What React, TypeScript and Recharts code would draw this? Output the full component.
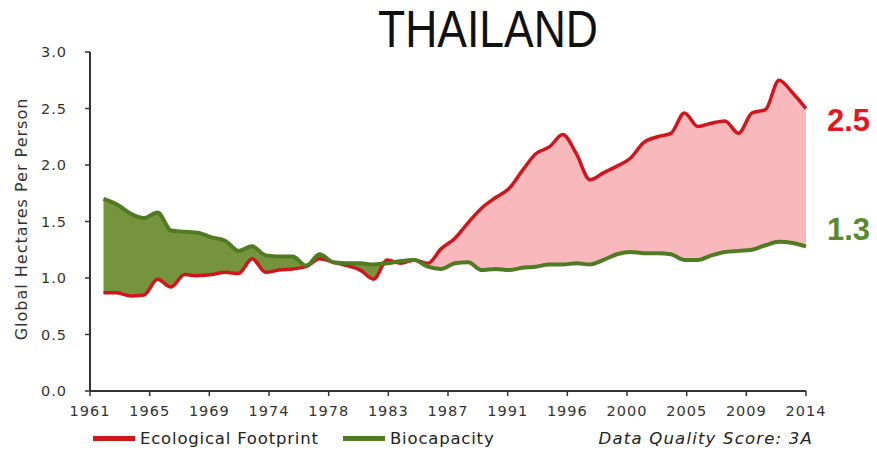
import React from "react";
import {
  ComposedChart,
  Area,
  Line,
  XAxis,
  YAxis,
} from "recharts";

const years = [
  1962, 1963, 1964, 1965, 1966, 1967, 1968, 1969, 1970, 1971,
  1972, 1973, 1974, 1975, 1976, 1977, 1978, 1979, 1980, 1981,
  1982, 1983, 1984, 1985, 1986, 1987, 1988, 1989, 1990, 1991,
  1992, 1993, 1994, 1995, 1996, 1997, 1998, 1999, 2000, 2001,
  2002, 2003, 2004, 2005, 2006, 2007, 2008, 2009, 2010, 2011,
  2012, 2013, 2014,
];

const footprint = [
  0.87, 0.87, 0.84, 0.85, 0.99, 0.92, 1.03, 1.02, 1.03, 1.05,
  1.04, 1.17, 1.05, 1.07, 1.08, 1.1, 1.17, 1.14, 1.11, 1.07,
  0.99, 1.16, 1.13, 1.16, 1.13, 1.26, 1.35, 1.49, 1.62, 1.71,
  1.79, 1.95, 2.1, 2.16, 2.27, 2.1, 1.87, 1.93, 1.99, 2.06,
  2.2, 2.25, 2.28, 2.46, 2.34, 2.37, 2.39, 2.28, 2.46, 2.49,
  2.75, 2.64, 2.5,
];

const biocapacity = [
  1.7, 1.65, 1.57, 1.53, 1.58, 1.42, 1.41, 1.4, 1.36, 1.33,
  1.24, 1.28, 1.2, 1.19, 1.19, 1.11, 1.21, 1.14, 1.13, 1.13,
  1.12, 1.13, 1.15, 1.16, 1.1, 1.08, 1.13, 1.14, 1.07, 1.08,
  1.07, 1.09, 1.1, 1.12, 1.12, 1.13, 1.12, 1.16, 1.21, 1.23,
  1.22, 1.22, 1.21, 1.16, 1.16, 1.2, 1.23, 1.24, 1.25, 1.29,
  1.32, 1.31, 1.28,
];

const xTickLabels = [
  "1961", "1965", "1969", "1974", "1978", "1983", "1987",
  "1991", "1996", "2000", "2005", "2009", "2014",
];
const yTicks = [0, 0.5, 1, 1.5, 2, 2.5, 3];

const X_MIN = 1961;
const X_MAX = 2014;
const xTicks = xTickLabels.map(
  (_, i) => X_MIN + (i * (X_MAX - X_MIN)) / (xTickLabels.length - 1)
);

const RED = "#d0161c";
const GREEN = "#507b22";

const rows = years.map((year, i) => {
  const fp = footprint[i];
  const bc = biocapacity[i];
  const top = Math.max(fp, bc);
  return { year, fp, bc, reserve: [fp, top], deficit: [bc, top] };
});

const last = rows.length - 1;

const axisFont = "'DejaVu Sans', sans-serif";

function EndLabel({
  x,
  y,
  index,
  value,
  color,
  dy,
}: {
  x?: number;
  y?: number;
  index?: number;
  value?: number;
  color: string;
  dy: number;
}) {
  if (index !== last || x == null || y == null) return null;
  return (
    <text
      x={x + 21}
      y={y + dy}
      fill={color}
      fontFamily="'Liberation Sans', Arial, sans-serif"
      fontWeight="bold"
      fontSize={31}
      dominantBaseline="central"
    >
      {Number(value).toFixed(1)}
    </text>
  );
}

export default function App() {
  return (
    <div style={{ position: "relative", width: 877, height: 452, background: "#fff" }}>
      <style>{`body{margin:0;background:#fff}`}</style>
      <svg
        width={877}
        height={452}
        style={{ position: "absolute", left: 0, top: 0, pointerEvents: "none" }}
      >
        <text
          x={378}
          y={47}
          fontFamily="'Liberation Sans', Arial, sans-serif"
          fontSize={51}
          fill="#111"
          textLength={220}
          lengthAdjust="spacingAndGlyphs"
        >
          THAILAND
        </text>
        <text
          transform="translate(21,219) rotate(-90)"
          textAnchor="middle"
          dominantBaseline="central"
          fontFamily={axisFont}
          fontSize={16}
          letterSpacing={1}
          fill="#333"
        >
          Global Hectares Per Person
        </text>
        <rect x={93} y={436} width={42} height={5} fill={RED} />
        <text x={140} y={444} fontFamily={axisFont} fontSize={16.5} letterSpacing={0.8} fill="#222">
          Ecological Footprint
        </text>
        <rect x={343} y={436} width={42} height={5} fill={GREEN} />
        <text x={390} y={444} fontFamily={axisFont} fontSize={16.5} letterSpacing={0.8} fill="#222">
          Biocapacity
        </text>
        <text
          x={813}
          y={444}
          textAnchor="end"
          fontFamily={axisFont}
          fontStyle="italic"
          fontSize={16.5}
          letterSpacing={1.2}
          fill="#222"
        >
          Data Quality Score: 3A
        </text>
      </svg>

      <ComposedChart
        width={877}
        height={452}
        data={rows}
        margin={{ top: 52, right: 71, bottom: 31, left: 30 }}
      >
        <XAxis
          dataKey="year"
          type="number"
          domain={[X_MIN, X_MAX]}
          ticks={xTicks}
          interval={0}
          tickFormatter={(v: number) =>
            xTickLabels[Math.round(((v - X_MIN) * (xTickLabels.length - 1)) / (X_MAX - X_MIN))]
          }
          height={30}
          tickSize={5}
          tickMargin={10}
          axisLine={{ stroke: "#333", strokeWidth: 2 }}
          tickLine={{ stroke: "#333", strokeWidth: 1.5 }}
          tick={{ fill: "#333", fontSize: 14.5, fontFamily: axisFont, letterSpacing: 1 }}
        />
        <YAxis
          type="number"
          domain={[0, 3]}
          ticks={yTicks}
          interval={0}
          width={60}
          tickFormatter={(v: number) => v.toFixed(1)}
          tickSize={5}
          tickMargin={18}
          axisLine={{ stroke: "#333", strokeWidth: 2 }}
          tickLine={{ stroke: "#333", strokeWidth: 1.5 }}
          tick={{ fill: "#333", fontSize: 14.5, fontFamily: axisFont, letterSpacing: 1 }}
        />
        <Area
          dataKey="reserve"
          type="monotone"
          stroke="none"
          fill="#76933d"
          fillOpacity={1}
          isAnimationActive={false}
          activeDot={false}
        />
        <Area
          dataKey="deficit"
          type="monotone"
          stroke="none"
          fill="#f9b9bc"
          fillOpacity={1}
          isAnimationActive={false}
          activeDot={false}
        />
        <Line
          dataKey="fp"
          type="monotone"
          stroke={RED}
          strokeWidth={3.5}
          dot={false}
          activeDot={false}
          isAnimationActive={false}
          label={(p: any) => <EndLabel {...p} color="#e3171d" dy={12} />}
        />
        <Line
          dataKey="bc"
          type="monotone"
          stroke={GREEN}
          strokeWidth={4}
          dot={false}
          activeDot={false}
          isAnimationActive={false}
          label={(p: any) => <EndLabel {...p} color="#5a8a30" dy={-17} />}
        />
      </ComposedChart>
    </div>
  );
}
